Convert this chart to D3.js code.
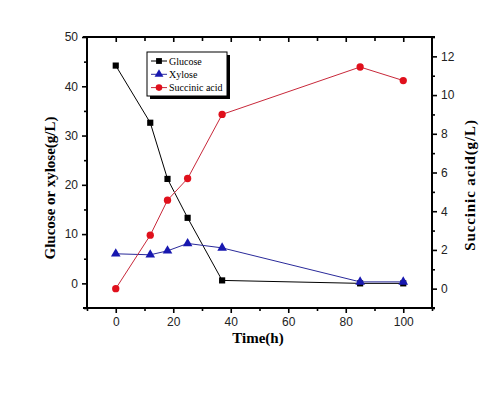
<!DOCTYPE html>
<html>
<head>
<meta charset="utf-8">
<script src="https://cdn.jsdelivr.net/npm/d3@7"></script>
<style>
  html, body { margin: 0; padding: 0; background: #fff; }
  svg { display: block; }
  .tick text { font-family: "Liberation Sans", Arial, sans-serif; font-size: 12px; fill: #222; }
</style>
</head>
<body>
<svg id="chart" width="503" height="393"></svg>
<script>
// ---- data ----
const time = [0, 12, 18, 25, 37, 85, 100];
const glucose = [44.2, 32.6, 21.2, 13.3, 0.6, 0.0, 0.0];
const xylose = [6.0, 5.8, 6.6, 8.1, 7.2, 0.3, 0.3];
const succinic = [0.0, 2.76, 4.57, 5.69, 9.0, 11.45, 10.75];

const xMajor = [0, 20, 40, 60, 80, 100];
const xMinor = [-10, 10, 30, 50, 70, 90, 110];
const yLeftMajor = [0, 10, 20, 30, 40, 50];
const yLeftMinor = [-5, 5, 15, 25, 35, 45];
const yRightMajor = [0, 2, 4, 6, 8, 10, 12];
const yRightMinor = [-1, 1, 3, 5, 7, 9, 11, 13];

const seriesNames = ["Glucose", "Xylose", "Succinic acid"];
const xTitle = "Time(h)";
const yLeftTitle = "Glucose or xylose(g/L)";
const yRightTitle = "Succinic acid(g/L)";

// ---- layout ----
const L = 87, R = 432, T = 37, B = 308;
const svg = d3.select("#chart");

const x = d3.scaleLinear().domain([-10, 110]).range([L, R]);
const yL = d3.scaleLinear().domain([-5, 50]).range([B, T]);
const yR = d3.scaleLinear().domain([-1, 13]).range([B, T]);

const colors = { g: "#000000", x: "#1818b0", s: "#e0101c" };
const lineColors = { g: "#000000", x: "#2a2a9a", s: "#c8283a" };

function styleAxis(g) {
  g.select(".domain").remove();
  g.selectAll(".tick line").attr("stroke", "#000").attr("stroke-width", 1.6);
}

// bottom axis
svg.append("g").attr("transform", `translate(0,${B})`)
  .call(d3.axisBottom(x).tickValues(xMajor).tickSize(5).tickPadding(4).tickFormat(d3.format("d")))
  .call(styleAxis);
svg.append("g").attr("transform", `translate(0,${B})`)
  .call(d3.axisBottom(x).tickValues(xMinor).tickSize(3).tickFormat(""))
  .call(styleAxis);
// top axis (inward ticks, no labels)
svg.append("g").attr("transform", `translate(0,${T})`)
  .call(d3.axisBottom(x).tickValues(xMajor).tickSize(5).tickFormat(""))
  .call(styleAxis);
svg.append("g").attr("transform", `translate(0,${T})`)
  .call(d3.axisBottom(x).tickValues(xMinor.filter(v => v > -10 && v < 110)).tickSize(4).tickFormat(""))
  .call(styleAxis);
// left axis
svg.append("g").attr("transform", `translate(${L},0)`)
  .call(d3.axisLeft(yL).tickValues(yLeftMajor).tickSize(5).tickPadding(4).tickFormat(d3.format("d")))
  .call(styleAxis);
svg.append("g").attr("transform", `translate(${L},0)`)
  .call(d3.axisLeft(yL).tickValues(yLeftMinor).tickSize(3).tickFormat(""))
  .call(styleAxis);
// right axis
svg.append("g").attr("transform", `translate(${R},0)`)
  .call(d3.axisRight(yR).tickValues(yRightMajor).tickSize(5).tickPadding(4).tickFormat(d3.format("d")))
  .call(styleAxis);
svg.append("g").attr("transform", `translate(${R},0)`)
  .call(d3.axisRight(yR).tickValues(yRightMinor).tickSize(3).tickFormat(""))
  .call(styleAxis);

// frame
const frame = svg.append("g").attr("stroke", "#000").attr("stroke-width", 2);
frame.append("line").attr("x1", L - 4).attr("x2", R + 3).attr("y1", T).attr("y2", T);
frame.append("line").attr("x1", L - 4).attr("x2", R + 3).attr("y1", B).attr("y2", B);
frame.append("line").attr("x1", L).attr("x2", L).attr("y1", T).attr("y2", B);
frame.append("line").attr("x1", R).attr("x2", R).attr("y1", T).attr("y2", B);

// axis titles
svg.append("text").attr("x", 258).attr("y", 343)
  .attr("text-anchor", "middle")
  .style("font-family", "'Liberation Serif', 'Times New Roman', serif")
  .style("font-size", "15px").style("font-weight", "bold")
  .text(xTitle);
svg.append("text")
  .attr("transform", "translate(55,188) rotate(-90)")
  .attr("text-anchor", "middle")
  .style("font-family", "'Liberation Serif', 'Times New Roman', serif")
  .style("font-size", "15px").style("font-weight", "bold")
  .text(yLeftTitle);
svg.append("text")
  .attr("transform", "translate(475,185) rotate(-90)")
  .attr("text-anchor", "middle")
  .style("font-family", "'Liberation Serif', 'Times New Roman', serif")
  .style("font-size", "15px").style("font-weight", "bold")
  .style("letter-spacing", "0.9px")
  .text(yRightTitle);

// series
const plot = svg.append("g");
function drawSeries(vals, yScale, lc, mc, shape) {
  const pts = time.map((t, i) => [t, vals[i]]);
  plot.append("path")
    .datum(pts)
    .attr("fill", "none").attr("stroke", lc).attr("stroke-width", 1)
    .attr("d", d3.line().x(d => x(d[0])).y(d => yScale(d[1])));
  plot.selectAll(null).data(pts).enter().append("path")
    .attr("transform", d => `translate(${x(d[0])},${yScale(d[1])})`)
    .attr("d", d3.symbol().type(shape).size(shape === d3.symbolCircle ? 42 : (shape === d3.symbolSquare ? 38 : 40)))
    .attr("fill", mc);
}
drawSeries(glucose, yL, lineColors.g, colors.g, d3.symbolSquare);
drawSeries(xylose, yL, lineColors.x, colors.x, d3.symbolTriangle);
drawSeries(succinic, yR, lineColors.s, colors.s, d3.symbolCircle);

// legend
const lg = svg.append("g");
const lx = 147, ly = 52, lw = 80, lh = 44;
lg.append("rect").attr("x", lx + 3).attr("y", ly + 3).attr("width", lw).attr("height", lh).attr("fill", "#000");
lg.append("rect").attr("x", lx).attr("y", ly).attr("width", lw).attr("height", lh)
  .attr("fill", "#fff").attr("stroke", "#000").attr("stroke-width", 1);
const legendItems = [
  { name: seriesNames[0], lc: lineColors.g, mc: colors.g, shape: d3.symbolSquare },
  { name: seriesNames[1], lc: lineColors.x, mc: colors.x, shape: d3.symbolTriangle },
  { name: seriesNames[2], lc: lineColors.s, mc: colors.s, shape: d3.symbolCircle }
];
legendItems.forEach((it, i) => {
  const yy = 61 + i * 13.3;
  lg.append("line").attr("x1", 151).attr("x2", 167).attr("y1", yy).attr("y2", yy)
    .attr("stroke", it.lc).attr("stroke-width", 1);
  lg.append("path").attr("transform", `translate(159,${yy})`)
    .attr("d", d3.symbol().type(it.shape).size(34)).attr("fill", it.mc);
  lg.append("text").attr("x", 169).attr("y", yy + 3.5)
    .style("font-family", "'Liberation Serif', 'Times New Roman', serif")
    .style("font-size", "10px")
    .text(it.name);
});
</script>
</body>
</html>
